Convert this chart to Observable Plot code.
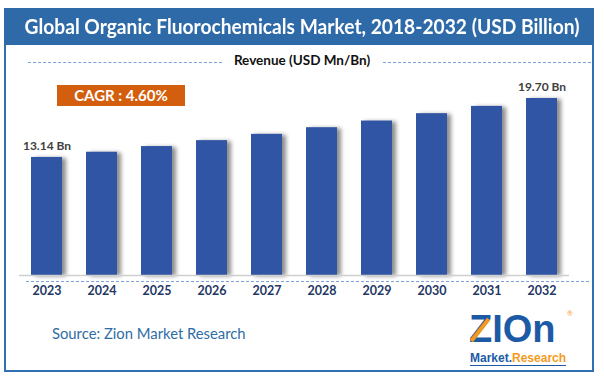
<!DOCTYPE html>
<html>
<head>
<meta charset="utf-8">
<script src="https://cdn.jsdelivr.net/npm/d3@7"></script>
<script src="https://cdn.jsdelivr.net/npm/@observablehq/plot@0.6"></script>
<style>
  html, body { margin: 0; padding: 0; background: #fff; }
  #wrap { position: relative; width: 604px; height: 379px; overflow: hidden; font-family: Lato, "Open Sans", sans-serif; background: #fff; }
  .abs { position: absolute; }
  #frame { left: 4px; top: 8px; width: 590px; height: 364px; border: 2px solid #2f70b4; box-sizing: border-box; }
  #titlebar { left: 4px; top: 8px; width: 590px; height: 37px; background: #2d6aa7; }
  #title { left: 0; top: 8px; width: 604px; height: 37px; line-height: 37px; text-align: center; color: #fff; font-size: 20px; font-weight: bold; white-space: nowrap; }
  #title span { display: inline-block; transform-origin: center; }
  #revenue { left: 217px; top: 52px; width: 170px; text-align: center; font-size: 13.5px; font-weight: bold; color: #111; white-space: nowrap; }
  .dash { height: 0; border-top: 1.3px dashed #7ea2d8; }
  #cagr { left: 57px; top: 85px; width: 128px; height: 21px; line-height: 21px; background: #d35f0e; color: #fff; font-weight: bold; font-size: 15px; text-align: center; }
  #source { left: 52px; top: 324px; font-size: 14.8px; color: #2e6ca4; white-space: nowrap; }
  #plot { left: 0; top: 70px; }
  #logo { left: 466px; top: 306px; width: 110px; height: 62px; }
  #logo .big { position: absolute; left: 3px; top: 7px; line-height: 32px; font-family: "Liberation Sans", Arial, sans-serif; font-weight: bold; font-size: 38px; color: #1c5aa6; letter-spacing: 0px; }
  #logo .small { position: absolute; left: 4px; top: 45px; font-family: "Liberation Sans", Arial, sans-serif; font-weight: bold; font-size: 12px; white-space: nowrap; border-bottom: 1.5px solid #1c5aa6; line-height: 14px; }
  #logo .reg { position: absolute; left: 101px; top: 3px; font-size: 7px; line-height: 8px; color: #f39a1e; }
  #logo .arrow { position: absolute; left: 12px; top: 10px; width: 4px; height: 28px; background: #f39a1e; transform: rotate(38deg); }
</style>
</head>
<body>
<div id="wrap">
  <div id="frame" class="abs"></div>
  <div id="titlebar" class="abs"></div>
  <div id="title" class="abs"><span id="titleText">Global Organic Fluorochemicals Market, 2018-2032 (USD Billion)</span></div>
  <div class="abs dash" style="left:28px; top:62px; width:194px;"></div>
  <div id="revenue" class="abs">Revenue (USD Mn/Bn)</div>
  <div class="abs dash" style="left:383px; top:62px; width:208px;"></div>
  <div id="cagr" class="abs">CAGR : 4.60%</div>
  <div id="plot" class="abs"></div>
  <div class="abs dash" style="left:26px; top:281px; width:563px;"></div>
  <div id="source" class="abs">Source: Zion Market Research</div>
  <div id="logo" class="abs">
    <div class="big">ZIOn</div>
    <div class="arrow"></div>
    <div class="reg">®</div>
    <div class="small"><span style="color:#1c5aa6">Market.</span><span style="color:#f39a1e">Research</span></div>
  </div>
</div>
<script>
// Data
const years = ["2023", "2024", "2025", "2026", "2027", "2028", "2029", "2030", "2031", "2032"];
const revenue = [13.14, 13.72, 14.35, 15.01, 15.71, 16.45, 17.19, 18.01, 18.82, 19.70];
const labelYears = ["2023", "2032"];

const data = years.map((year, i) => ({ year, value: revenue[i] }));
const labels = data.filter(d => labelYears.includes(d.year));

const chart = Plot.plot({
  width: 604,
  height: 230,
  marginLeft: 19,
  marginRight: 35,
  marginTop: 28,
  marginBottom: 25,
  style: { background: "transparent", fontFamily: "Lato, sans-serif", fontSize: "12px", color: "#1f3864" },
  x: { domain: years, paddingInner: 0.436, paddingOuter: 0.218, tickSize: 0, tickPadding: 11, label: null },
  y: { domain: [0, 19.70], axis: null },
  marks: [
    Plot.barY(data, { x: "year", y: "value", fill: "#2f55a4" }),
    Plot.ruleY([0], { stroke: "#cfcfcf", strokeWidth: 1.5 }),
    Plot.text(labels, { x: "year", y: "value", text: d => d.value.toFixed(2) + " Bn", dy: -11, fontSize: 12, fontWeight: "bold", fill: "#404040" })
  ]
});
document.getElementById("plot").appendChild(chart);

// bold axis labels and bar shadow
chart.querySelectorAll("g[aria-label^='x-axis'] text").forEach(t => { t.style.fontWeight = "bold"; t.style.fontSize = "12.5px"; });
const barG = chart.querySelector("g[aria-label='bar']");
if (barG) barG.style.filter = "drop-shadow(4px 1px 2px rgba(0,0,0,0.45))";

// fit title to reference width
const tt = document.getElementById("titleText");
const w = tt.getBoundingClientRect().width;
tt.style.transform = `scaleX(${555 / w})`;
</script>
</body>
</html>
